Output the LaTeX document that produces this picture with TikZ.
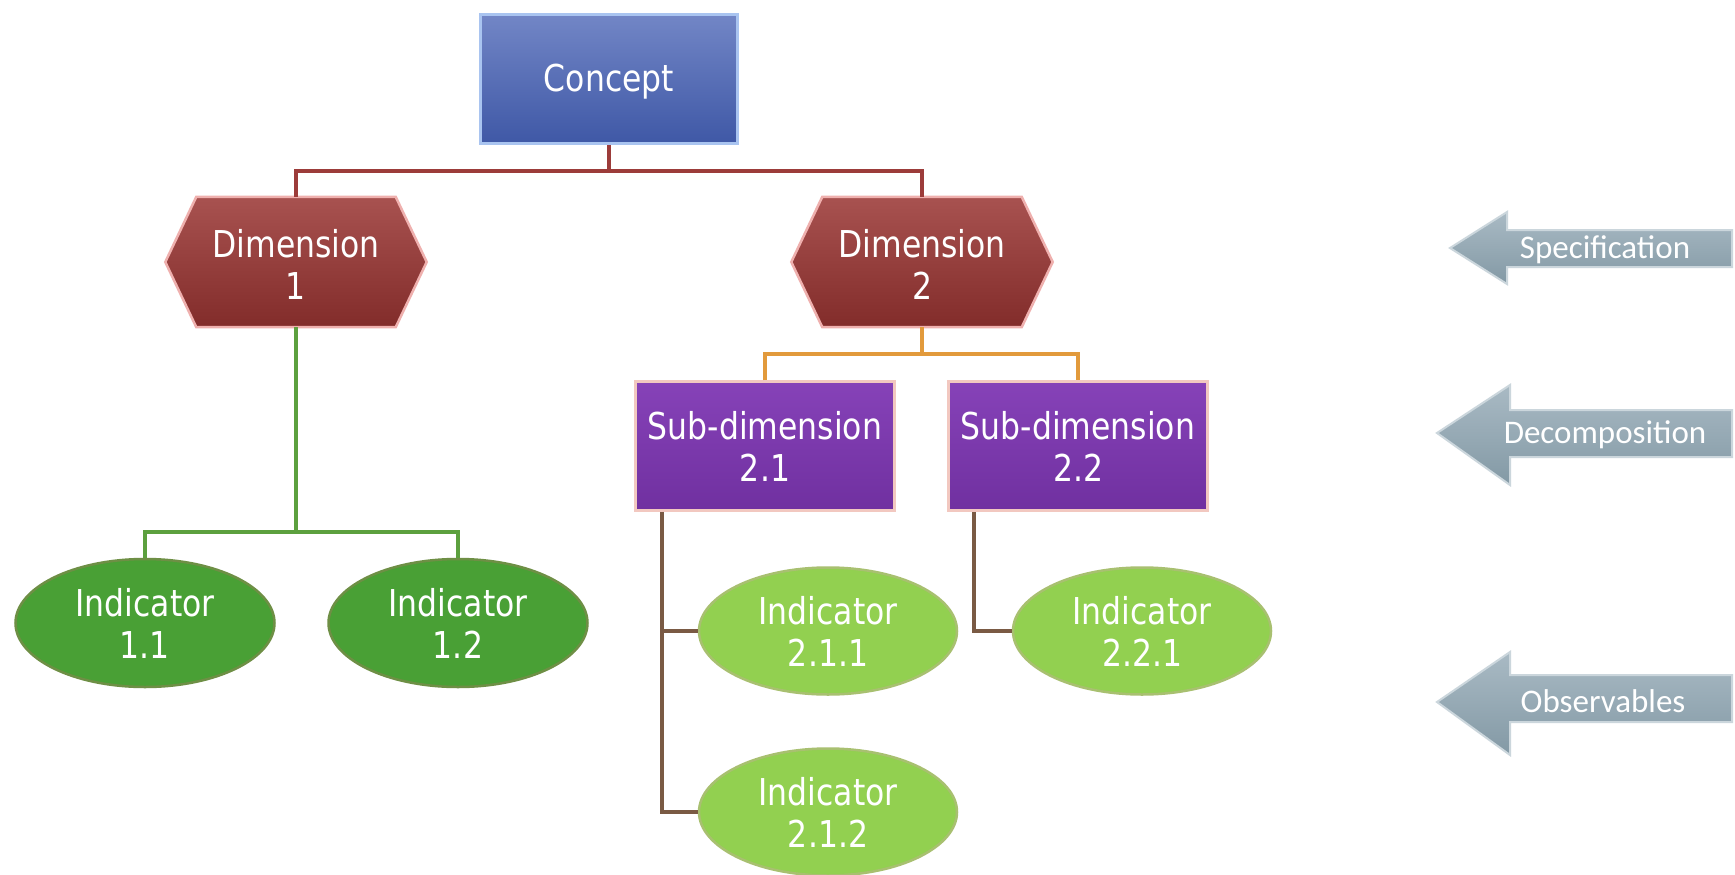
\documentclass[tikz,border=0pt]{standalone}
\usepackage{fontspec}
\newfontfamily\lblfont{DejaVu Sans}[FakeStretch=0.85]
\newfontfamily\arrfont{Carlito}
\usetikzlibrary{calc,shapes.geometric}
\definecolor{cblue}{HTML}{3F58A6}
\definecolor{cbluetop}{HTML}{7286C6}
\definecolor{cblueedge}{HTML}{A9C4F0}
\definecolor{dred}{HTML}{822C2A}
\definecolor{dredtop}{HTML}{A85250}
\definecolor{dredge}{HTML}{EFB0AE}
\definecolor{spurple}{HTML}{7030A0}
\definecolor{spurpletop}{HTML}{8642B8}
\definecolor{spurpleedge}{HTML}{F2C8C0}
\definecolor{igreen}{HTML}{49A035}
\definecolor{igreenedge}{HTML}{6E8F45}
\definecolor{lgreen}{HTML}{92D050}
\definecolor{lgreenedge}{HTML}{A8C070}
\definecolor{agray}{HTML}{8399A5}
\definecolor{agraytop}{HTML}{A9BAC4}
\definecolor{agrayedge}{HTML}{CBD6DC}
\definecolor{lred}{HTML}{9C3C3A}
\definecolor{lgr}{HTML}{5CA03E}
\definecolor{lor}{HTML}{E29A3C}
\definecolor{lbr}{HTML}{7A5A44}
\tikzset{
  lbl/.style={text=white,font=\lblfont\fontsize{37}{42}\selectfont,align=center,inner sep=0pt},
  conceptbox/.style={lbl,rectangle,minimum width=257pt,minimum height=129pt,draw=cblueedge,line width=3pt,top color=cbluetop,bottom color=cblue},
  dimbox/.style={lbl,rectangle,minimum width=261pt,minimum height=130pt},
  subbox/.style={lbl,rectangle,minimum width=259pt,minimum height=129pt,draw=spurpleedge,line width=2.5pt,top color=spurpletop,bottom color=spurple},
  indone/.style={lbl,ellipse,minimum width=259pt,minimum height=128pt,draw=igreenedge,line width=2.5pt,fill=igreen},
  indtwo/.style={lbl,ellipse,minimum width=258pt,minimum height=127pt,draw=lgreenedge,line width=2.5pt,fill=lgreen},
  conn/.style={line width=3.2pt},
  arrtext/.style={text=white,font=\arrfont\fontsize{33}{36}\selectfont,inner sep=0pt},
  arrshape/.style={draw=agrayedge,line width=2pt,top color=agraytop,bottom color=agray,line join=miter}
}
\begin{document}
\begin{tikzpicture}[x=1pt,y=-1pt]
\useasboundingbox (0,0) rectangle (1735,875);
\fill[white] (0,0) rectangle (1735,875);

% nodes
\node[conceptbox] (concept) at (609,79) {};
\node[lbl] at (609,82) {Concept};
\node[dimbox] (dim1) at (296,262) {};
\node[dimbox] (dim2) at (922,262) {};
\foreach \d in {dim1,dim2}{
  \draw[draw=dredge,line width=2.5pt,top color=dredtop,bottom color=dred,line join=miter]
    (\d.west) -- ($(\d.north west)+(31,0)$) -- ($(\d.north east)+(-31,0)$) -- (\d.east)
    -- ($(\d.south east)+(-31,0)$) -- ($(\d.south west)+(31,0)$) -- cycle;
}
\node[lbl] at (296,264) {Dimension\\1};
\node[lbl] at (922,264) {Dimension\\2};
\node[subbox] (sub21) at (765,446) {Sub-dimension\\2.1};
\node[subbox] (sub22) at (1078,446) {Sub-dimension\\2.2};
\node[indone] (ind11) at (145,623) {Indicator\\1.1};
\node[indone] (ind12) at (458,623) {Indicator\\1.2};
\node[indtwo] (ind211) at (828,631) {Indicator\\2.1.1};
\node[indtwo] (ind221) at (1142,631) {Indicator\\2.2.1};
\node[indtwo] (ind212) at (828,812) {Indicator\\2.1.2};

% connectors
\coordinate (j0) at (609,171);
\draw[conn,lred] (concept.south) -- (j0);
\draw[conn,lred] (dim1.north) |- (j0) -| (dim2.north);
\coordinate (j1) at (296,532);
\draw[conn,lgr] (dim1.south) -- (j1);
\draw[conn,lgr] (ind11.north) |- (j1) -| (ind12.north);
\coordinate (j2) at (922,354);
\draw[conn,lor] (dim2.south) -- (j2);
\draw[conn,lor] (sub21.north) |- (j2) -| (sub22.north);
\coordinate (b21) at (662,812);
\draw[conn,lbr] (sub21.south -| b21) -- (b21) -- (ind212.west);
\draw[conn,lbr] (ind211.west -| b21) -- (ind211.west);
\coordinate (b22) at (974,631);
\draw[conn,lbr] (sub22.south -| b22) -- (b22) -- (ind221.west);

% side arrows
\draw[arrshape] (1450,248) -- (1507,212) -- (1507,230) -- (1732,230) -- (1732,267) -- (1507,267) -- (1507,284) -- cycle;
\node[arrtext] (spec) at (1605,250) {Specification};
\draw[arrshape] (1437,433) -- (1510,385) -- (1510,410) -- (1732,410) -- (1732,457) -- (1510,457) -- (1510,485) -- cycle;
\node[arrtext] (decomp) at (1605,435) {Decomposition};
\draw[arrshape] (1437,702) -- (1510,652) -- (1510,675) -- (1732,675) -- (1732,722) -- (1510,722) -- (1510,755) -- cycle;
\node[arrtext] (obs) at (1603,701) {Observables};
\end{tikzpicture}
\end{document}
